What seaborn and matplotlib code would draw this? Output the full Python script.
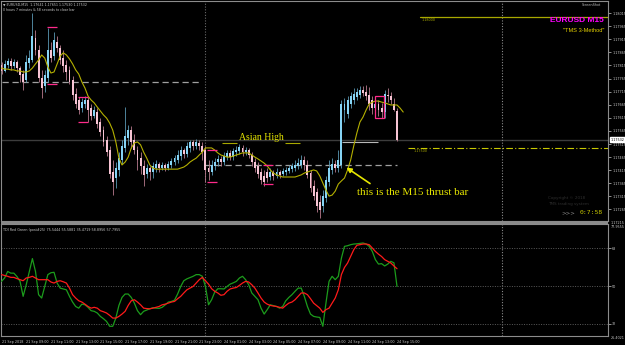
import numpy as np
import pandas as pd
import matplotlib
matplotlib.use("Agg")
import matplotlib.pyplot as plt
import seaborn as sns
from matplotlib.patches import Rectangle

# ---------------- data ----------------
opens = [
    1.17817, 1.17794, 1.17817, 1.17832, 1.17813, 1.17828, 1.17805, 1.17782, 1.17759, 1.17824,
    1.17836, 1.17920, 1.17874, 1.17767, 1.17736, 1.17767, 1.17874, 1.17851, 1.17905, 1.17882,
    1.17843, 1.17817, 1.17798, 1.17759, 1.17706, 1.17683, 1.17652, 1.17668, 1.17683, 1.17652,
    1.17622, 1.17637, 1.17599, 1.17568, 1.17530, 1.17492, 1.17408, 1.17385, 1.17416, 1.17454,
    1.17500, 1.17538, 1.17568, 1.17530, 1.17492, 1.17461, 1.17431, 1.17400, 1.17423, 1.17408,
    1.17423, 1.17439, 1.17423, 1.17435, 1.17423, 1.17435, 1.17446, 1.17454, 1.17469, 1.17492,
    1.17477, 1.17500, 1.17523, 1.17507, 1.17519, 1.17507, 1.17492, 1.17423, 1.17408, 1.17431,
    1.17446, 1.17458, 1.17446, 1.17465, 1.17481, 1.17465, 1.17484, 1.17488, 1.17500, 1.17484,
    1.17492, 1.17473, 1.17446, 1.17431, 1.17408, 1.17393, 1.17408, 1.17389, 1.17408, 1.17393,
    1.17408, 1.17400, 1.17408, 1.17412, 1.17419, 1.17423, 1.17431, 1.17435, 1.17454, 1.17435,
    1.17404, 1.17354, 1.17332, 1.17293, 1.17278, 1.17309, 1.17370, 1.17416, 1.17439, 1.17423,
    1.17435, 1.17645, 1.17630, 1.17668, 1.17683, 1.17694, 1.17702, 1.17721, 1.17714, 1.17702,
    1.17683, 1.17652, 1.17668, 1.17652, 1.17637, 1.17702, 1.17698, 1.17668, 1.17641]
highs = [
    1.17828, 1.17836, 1.17843, 1.17843, 1.17840, 1.17836, 1.17813, 1.17798, 1.17855, 1.17874,
    1.18015, 1.17950, 1.17893, 1.17798, 1.17798, 1.17958, 1.17905, 1.17943, 1.17927, 1.17893,
    1.17874, 1.17836, 1.17813, 1.17775, 1.17729, 1.17694, 1.17691, 1.17698, 1.17694, 1.17668,
    1.17660, 1.17652, 1.17614, 1.17584, 1.17545, 1.17507, 1.17454, 1.17446, 1.17484, 1.17530,
    1.17656, 1.17588, 1.17584, 1.17553, 1.17507, 1.17484, 1.17454, 1.17439, 1.17431, 1.17446,
    1.17454, 1.17446, 1.17446, 1.17442, 1.17450, 1.17461, 1.17473, 1.17492, 1.17507, 1.17500,
    1.17523, 1.17530, 1.17530, 1.17534, 1.17530, 1.17523, 1.17507, 1.17454, 1.17454, 1.17461,
    1.17473, 1.17469, 1.17484, 1.17492, 1.17492, 1.17500, 1.17507, 1.17515, 1.17511, 1.17503,
    1.17500, 1.17484, 1.17461, 1.17446, 1.17423, 1.17416, 1.17423, 1.17423, 1.17416, 1.17423,
    1.17416, 1.17423, 1.17427, 1.17435, 1.17442, 1.17454, 1.17461, 1.17473, 1.17469, 1.17454,
    1.17416, 1.17377, 1.17347, 1.17320, 1.17339, 1.17393, 1.17454, 1.17461, 1.17454, 1.17492,
    1.17683, 1.17691, 1.17698, 1.17714, 1.17729, 1.17729, 1.17736, 1.17736, 1.17740, 1.17733,
    1.17698, 1.17683, 1.17683, 1.17672, 1.17721, 1.17729, 1.17714, 1.17690, 1.17651]
lows = [
    1.17782, 1.17790, 1.17805, 1.17798, 1.17805, 1.17790, 1.17752, 1.17721, 1.17752, 1.17805,
    1.17828, 1.17855, 1.17752, 1.17691, 1.17714, 1.17752, 1.17828, 1.17836, 1.17866, 1.17821,
    1.17790, 1.17759, 1.17744, 1.17683, 1.17652, 1.17630, 1.17637, 1.17652, 1.17599, 1.17607,
    1.17614, 1.17576, 1.17545, 1.17507, 1.17469, 1.17385, 1.17320, 1.17347, 1.17393, 1.17439,
    1.17484, 1.17511, 1.17500, 1.17477, 1.17416, 1.17400, 1.17354, 1.17385, 1.17377, 1.17385,
    1.17408, 1.17408, 1.17416, 1.17412, 1.17416, 1.17423, 1.17435, 1.17442, 1.17454, 1.17461,
    1.17465, 1.17484, 1.17492, 1.17496, 1.17492, 1.17454, 1.17370, 1.17377, 1.17397, 1.17416,
    1.17431, 1.17431, 1.17435, 1.17454, 1.17454, 1.17454, 1.17469, 1.17477, 1.17469, 1.17473,
    1.17461, 1.17431, 1.17408, 1.17385, 1.17362, 1.17354, 1.17370, 1.17377, 1.17377, 1.17385,
    1.17385, 1.17393, 1.17397, 1.17404, 1.17408, 1.17412, 1.17419, 1.17423, 1.17416, 1.17385,
    1.17332, 1.17301, 1.17255, 1.17232, 1.17255, 1.17293, 1.17354, 1.17400, 1.17408, 1.17408,
    1.17423, 1.17599, 1.17614, 1.17652, 1.17668, 1.17683, 1.17691, 1.17698, 1.17683, 1.17645,
    1.17630, 1.17637, 1.17622, 1.17614, 1.17614, 1.17675, 1.17668, 1.17640, 1.17526]
closes = [
    1.17794, 1.17821, 1.17832, 1.17813, 1.17828, 1.17805, 1.17778, 1.17752, 1.17828, 1.17843,
    1.17927, 1.17874, 1.17767, 1.17729, 1.17778, 1.17874, 1.17843, 1.17912, 1.17882, 1.17836,
    1.17813, 1.17790, 1.17752, 1.17702, 1.17668, 1.17645, 1.17675, 1.17683, 1.17645, 1.17622,
    1.17645, 1.17591, 1.17561, 1.17523, 1.17484, 1.17400, 1.17370, 1.17423, 1.17461, 1.17507,
    1.17545, 1.17568, 1.17523, 1.17492, 1.17454, 1.17431, 1.17397, 1.17423, 1.17408, 1.17431,
    1.17439, 1.17423, 1.17435, 1.17423, 1.17439, 1.17450, 1.17461, 1.17473, 1.17492, 1.17477,
    1.17507, 1.17523, 1.17507, 1.17523, 1.17507, 1.17484, 1.17416, 1.17408, 1.17435, 1.17446,
    1.17458, 1.17446, 1.17469, 1.17481, 1.17465, 1.17488, 1.17492, 1.17503, 1.17484, 1.17492,
    1.17473, 1.17446, 1.17423, 1.17400, 1.17377, 1.17370, 1.17385, 1.17408, 1.17393, 1.17408,
    1.17397, 1.17412, 1.17416, 1.17423, 1.17431, 1.17435, 1.17442, 1.17454, 1.17435, 1.17397,
    1.17347, 1.17316, 1.17278, 1.17263, 1.17316, 1.17377, 1.17423, 1.17439, 1.17423, 1.17454,
    1.17668, 1.17668, 1.17683, 1.17698, 1.17706, 1.17714, 1.17721, 1.17710, 1.17698, 1.17668,
    1.17652, 1.17668, 1.17645, 1.17637, 1.17706, 1.17698, 1.17683, 1.17645, 1.17532]

ma_values = [
    1.17805, 1.17801, 1.17801, 1.17798, 1.17798, 1.17794, 1.17794, 1.17790, 1.17790, 1.17794,
    1.17805, 1.17821, 1.17836, 1.17855, 1.17843, 1.17809, 1.17786, 1.17790, 1.17821, 1.17851,
    1.17863, 1.17855, 1.17840, 1.17821, 1.17798, 1.17782, 1.17752, 1.17729, 1.17698, 1.17683,
    1.17672, 1.17656, 1.17641, 1.17626, 1.17614, 1.17595, 1.17568, 1.17523, 1.17461, 1.17435,
    1.17446, 1.17465, 1.17500, 1.17519, 1.17523, 1.17512, 1.17484, 1.17461, 1.17435, 1.17423,
    1.17419, 1.17419, 1.17419, 1.17419, 1.17419, 1.17419, 1.17419, 1.17419, 1.17423, 1.17427,
    1.17435, 1.17446, 1.17454, 1.17461, 1.17473, 1.17484, 1.17500, 1.17500, 1.17500, 1.17492,
    1.17481, 1.17473, 1.17469, 1.17465, 1.17465, 1.17469, 1.17473, 1.17477, 1.17481, 1.17481,
    1.17481, 1.17473, 1.17465, 1.17458, 1.17450, 1.17442, 1.17431, 1.17416, 1.17404, 1.17397,
    1.17393, 1.17389, 1.17389, 1.17389, 1.17389, 1.17389, 1.17393, 1.17397, 1.17404, 1.17408,
    1.17412, 1.17416, 1.17412, 1.17393, 1.17366, 1.17339, 1.17316, 1.17320, 1.17335, 1.17362,
    1.17374, 1.17385, 1.17416, 1.17454, 1.17508, 1.17557, 1.17599, 1.17618, 1.17645, 1.17668,
    1.17675, 1.17679, 1.17679, 1.17675, 1.17672, 1.17668, 1.17664, 1.17664, 1.17664, 1.17652,
    1.17637]

tdi_green = [
    52.2, 53.8, 56.9, 56.1, 56.1, 54.5, 52.2, 45.1, 50.6, 56.9,
    63.0, 56.9, 45.9, 44.3, 49.8, 55.4, 56.3, 56.5, 51.4, 49.0,
    48.6, 48.2, 45.1, 42.4, 40.3, 39.5, 41.4, 41.1, 39.9, 38.3,
    38.0, 37.2, 35.6, 34.5, 33.2, 30.9, 30.9, 34.8, 40.8, 44.6,
    46.2, 46.2, 44.6, 41.9, 38.3, 36.4, 38.0, 38.6, 39.2, 39.7,
    39.5, 39.4, 39.9, 41.1, 42.4, 42.7, 43.3, 46.2, 49.8, 52.5,
    53.4, 54.0, 54.6, 55.4, 55.4, 54.6, 49.8, 41.1, 43.5, 47.1,
    48.7, 48.7, 48.6, 49.8, 50.9, 51.5, 52.2, 53.8, 54.6, 53.0,
    50.6, 46.7, 45.1, 43.5, 39.5, 36.7, 38.8, 41.1, 40.7, 40.3,
    39.5, 40.3, 43.0, 44.6, 45.9, 47.5, 49.0, 49.0, 45.1, 40.3,
    36.7, 35.6, 35.3, 35.1, 30.9, 41.9, 52.2, 54.6, 53.0, 54.6,
    63.2, 68.8, 69.1, 69.6, 69.9, 70.0, 70.2, 70.4, 69.9, 68.8,
    66.4, 62.5, 60.4, 60.6, 59.5, 60.4, 61.7, 61.0, 49.8]
tdi_red = [
    55.4, 55.0, 54.6, 54.1, 54.1, 53.5, 53.0, 52.5, 53.8, 54.1,
    54.6, 53.8, 53.0, 53.0, 53.0, 53.0, 51.9, 51.4, 52.2, 52.5,
    52.0, 51.4, 49.0, 45.9, 44.3, 43.0, 42.4, 41.4, 40.3, 39.5,
    39.9, 39.5, 38.3, 37.8, 37.2, 36.1, 34.8, 34.8, 35.6, 36.7,
    38.0, 40.8, 43.0, 43.5, 42.4, 41.1, 39.5, 39.3, 39.2, 39.5,
    39.9, 40.3, 41.1, 41.4, 41.9, 42.4, 42.7, 44.0, 45.1, 46.7,
    48.2, 49.0, 49.8, 51.4, 53.0, 54.1, 52.5, 50.9, 48.7, 47.5,
    46.7, 45.6, 45.9, 47.5, 48.6, 49.0, 49.3, 50.3, 51.4, 52.2,
    51.9, 50.6, 49.0, 46.7, 44.3, 42.4, 41.4, 40.8, 40.5, 40.3,
    39.9, 39.5, 40.8, 41.9, 42.4, 43.5, 45.1, 46.7, 46.7, 45.9,
    44.0, 41.9, 40.7, 39.5, 37.5, 38.8, 39.5, 41.9, 44.3, 48.2,
    55.4, 58.8, 60.9, 64.0, 67.2, 69.3, 69.6, 69.9, 69.9, 69.6,
    68.0, 66.4, 65.1, 64.0, 62.5, 61.7, 60.9, 59.5, 58.2]

time_labels = ["21 Sep 2018", "21 Sep 09:00", "21 Sep 11:00", "21 Sep 13:00",
               "21 Sep 15:00", "21 Sep 17:00", "21 Sep 19:00", "21 Sep 21:00",
               "21 Sep 23:00", "24 Sep 01:00", "24 Sep 03:00", "24 Sep 05:00",
               "24 Sep 07:00", "24 Sep 09:00", "24 Sep 11:00", "24 Sep 13:00",
               "24 Sep 15:00"]
time_label_bars = [0, 8, 16, 24, 32, 40, 48, 56, 64, 72, 80, 88, 96, 104, 112, 120, 128]
price_ticks = [1.18015, 1.17965, 1.17915, 1.17865, 1.17815, 1.17765, 1.17715, 1.17665,
               1.17615, 1.17565, 1.17515, 1.17465, 1.17415, 1.17365, 1.17315, 1.17265]
tdi_levels = [68, 50, 32]

bid_price = 1.17532
round_level = 1.18000
half_level = 1.17500
day_separator_bar = 65.9
shift_line_bar = 162.0
# horizontal session lines: (price, start bar, end bar)
dashed_lines = [(1.17752, 0.0, 64.2), (1.17435, 65.9, 128.0)]
light_line = (1.17524, 110.2, 122.0)
# session high/low brackets: start bar, end bar, top, bottom
bracket_start = [14.7, 24.8, 66.5, 84.6]
bracket_end = [18.0, 28.0, 69.7, 87.9]
bracket_top = [1.17962, 1.17694, 1.17492, 1.17435]
bracket_bottom = [1.17744, 1.17599, 1.17370, 1.17362]
box = (120.9, 123.8, 1.17614, 1.17698)

# ---------------- style ----------------
sns.set_theme(style="dark", rc={
    "axes.facecolor": "black", "figure.facecolor": "black",
    "axes.edgecolor": "#8c8c8c", "axes.linewidth": 0.8, "axes.grid": False,
})
plt.rcParams['font.family'] = ['DejaVu Sans']

BULL, BULL_W = "#86d4f5", "#5a98b4"
BEAR, BEAR_W = "#f7c4d4", "#b87a8e"
PINK = "#ff2a8a"
YEL = "#e6e600"
OLIVE = "#a8a800"
TXT = "#c8c8c8"

W, H = 625, 345
fig = plt.figure(figsize=(W / 100, H / 100), dpi=100)


def rect(x0, y0, x1, y1):
    return [x0 / W, 1 - y1 / H, (x1 - x0) / W, (y1 - y0) / H]


ax = fig.add_axes(rect(1, 1, 608, 221))
ax2 = fig.add_axes(rect(1, 224, 608, 336))
PX0, PXSTEP = 1.5, 3.09
xlim = ((1 - PX0) / PXSTEP, (608 - PX0) / PXSTEP)

# ---------------- main panel ----------------
bars = pd.DataFrame({"open": opens, "high": highs, "low": lows, "close": closes})
bars["i"] = np.arange(len(bars))
bull = bars["close"] >= bars["open"]
for mask, body_col, wick_col in [(bull, BULL, BULL_W), (~bull, BEAR, BEAR_W)]:
    b = bars[mask]
    ax.vlines(b["i"], b["low"], b["high"], colors=wick_col, lw=0.6, zorder=3)
    lo = np.minimum(b["open"], b["close"])
    hgt = np.maximum((b["close"] - b["open"]).abs(), 0.00002)
    ax.bar(b["i"], hgt, bottom=lo, width=0.62, color=body_col, lw=0, zorder=4)

sns.lineplot(x=np.arange(len(ma_values)), y=ma_values, ax=ax, color="#b4b000",
             lw=0.8, zorder=5, legend=False)

ax.axhline(bid_price, color="#3c3c3c", lw=1.0, zorder=1)
ax.axhline(round_level, xmin=(420 - 1) / 607, xmax=1, color=OLIVE, lw=0.9, zorder=2)
ax.axhline(half_level, xmin=(408 - 1) / 607, xmax=1, color="#c8c800", lw=0.8,
           ls=(0, (6, 2, 1, 2)), zorder=2)
for p, b0, b1 in dashed_lines:
    ax.hlines(p, b0, b1, colors="#a0a0a0", lw=0.9, linestyles=(0, (5, 3)), zorder=2)
ax.hlines(light_line[0], light_line[1], light_line[2], colors="#b8b8b8", lw=0.8, zorder=2)

for x0, x1, top, bot in zip(bracket_start, bracket_end, bracket_top, bracket_bottom):
    ax.hlines([top, bot], x0, x1, colors=PINK, lw=0.9, zorder=6)
ax.add_patch(Rectangle((box[0], box[2]), box[1] - box[0], box[3] - box[2],
                       fill=False, ec=PINK, lw=0.9, zorder=6))

for a in (ax, ax2):
    a.axvline(day_separator_bar, color="#6a6a6a", ls=(0, (1, 1.5)), lw=0.8, zorder=1)
    a.axvline(shift_line_bar, color="#8a8a8a", ls=(0, (1, 1.5)), lw=0.8, zorder=1)

# annotations
ax.text(84, 1.17538, "Asian High", ha="center", va="center", color=YEL,
        family="Liberation Serif", fontsize=7, zorder=7)
ax.hlines(1.17519, 71.4, 76.2, colors=OLIVE, lw=0.8)
ax.hlines(1.17519, 91.7, 96.6, colors=OLIVE, lw=0.8)
ax.text(115.1, 1.17328, "this is the M15 thrust bar", ha="left", va="center",
        color=YEL, family="Liberation Serif", fontsize=8, zorder=7)
ax.annotate("", xy=(110.9, 1.17431), xytext=(120.0, 1.17358),
            arrowprops=dict(arrowstyle="-|>", color=YEL, lw=1.2, mutation_scale=7),
            zorder=7)
ax.text(135.8, 1.17989, "1.18000", color=OLIVE, fontsize=2.4, va="center", ha="left")
ax.text(133.5, 1.17488, "1.17500", color=OLIVE, fontsize=2.4, va="center", ha="left")

ax.set_xlim(xlim)
ax.set_ylim(1.17221, 1.18061)
ax.set_xticks([])
ax.yaxis.tick_right()
ax.set_yticks(price_ticks)
ax.set_yticklabels([f"{p:.5f}" for p in price_ticks])
ax.tick_params(axis="y", colors=TXT, labelsize=2.4, length=2, width=0.5, pad=1)
ax.set_xlabel("")
ax.set_ylabel("")
ax.text(1.004, bid_price, f"{bid_price:.5f}", transform=ax.get_yaxis_transform(),
        fontsize=2.4, color="black", va="center", ha="left", zorder=10,
        bbox=dict(boxstyle="square,pad=0.25", fc="white", ec="white"), clip_on=False)

# ---------------- indicator panel ----------------
xi = np.arange(len(tdi_green))
sns.lineplot(x=xi, y=tdi_green, ax=ax2, color="#1c9c1c", lw=0.9, legend=False, zorder=3)
sns.lineplot(x=xi, y=tdi_red, ax=ax2, color="#ff1a1a", lw=0.9, legend=False, zorder=4)
for lvl in tdi_levels:
    ax2.axhline(lvl, color="#5c5c5c", ls=(0, (1, 1.5)), lw=0.7, zorder=1)
ax2.set_xlim(xlim)
ax2.set_ylim(26.3, 79.4)
ax2.yaxis.tick_right()
ax2.set_yticks(tdi_levels)
ax2.set_yticklabels([str(v) for v in tdi_levels])
ax2.tick_params(axis="y", colors=TXT, labelsize=2.4, length=2, width=0.5, pad=1)
ax2.set_xticks(time_label_bars, labels=time_labels, ha="left")
ax2.tick_params(axis="x", colors=TXT, labelsize=2.4, length=2, width=0.5, pad=1.2)
ax2.set_xlabel("")
ax2.set_ylabel("")

# ---------------- frame & figure texts ----------------
fig.add_artist(Rectangle((1 / W, 1 - 224 / H), 607 / W, 3 / H,
                         transform=fig.transFigure, color="#8a8a8a", lw=0))


def ftext(x, y, s, **kw):
    fig.text(x / W, 1 - y / H, s, **kw)


ftext(3, 4.5, "\u25bc EURUSD,M15  1.17641 1.17651 1.17530 1.17532", fontsize=2.3,
      color=TXT, va="center")
ftext(3, 10, "0 hours 7 minutes & 58 seconds to close bar", fontsize=2.3,
      color=TXT, va="center")
ftext(3, 230, "TDI Red Green (post#25) 75.5444 55.5881 35.4719 58.8956 57.7955",
      fontsize=2.4, color=TXT, va="center")
ftext(604, 20, "EURUSD M15", fontsize=6, color="#ff00ff", weight="bold",
      family="Liberation Sans", ha="right", va="center")
ftext(604, 31, "\"TMS 3-Method\"", fontsize=4.1, color="#e6d200",
      family="Liberation Sans", ha="right", va="center")
ftext(601, 5, "ScreenShot", fontsize=2.4, color="#bbbbbb", ha="right", va="center")
ftext(548, 198, "Copyright \u00a9 2018", fontsize=3, color="#2e2e2e", va="center")
ftext(548, 204, "TMS trading system", fontsize=3, color="#2e2e2e", va="center")
ftext(561, 213, ">>>", fontsize=4, color="#8c8c8c", va="center")
ftext(603, 213, "0:7:58", fontsize=4.6, color="#c8c800", family="DejaVu Sans Mono",
      ha="right", va="center")
ftext(611, 222.5, "1.17215", fontsize=2.4, color=TXT, va="center")
ftext(611, 227, "77.9555", fontsize=2.4, color=TXT, va="center")
ftext(611, 338, "26.4021", fontsize=2.4, color=TXT, va="center")

fig.savefig("out.png", dpi=100, facecolor="black")
